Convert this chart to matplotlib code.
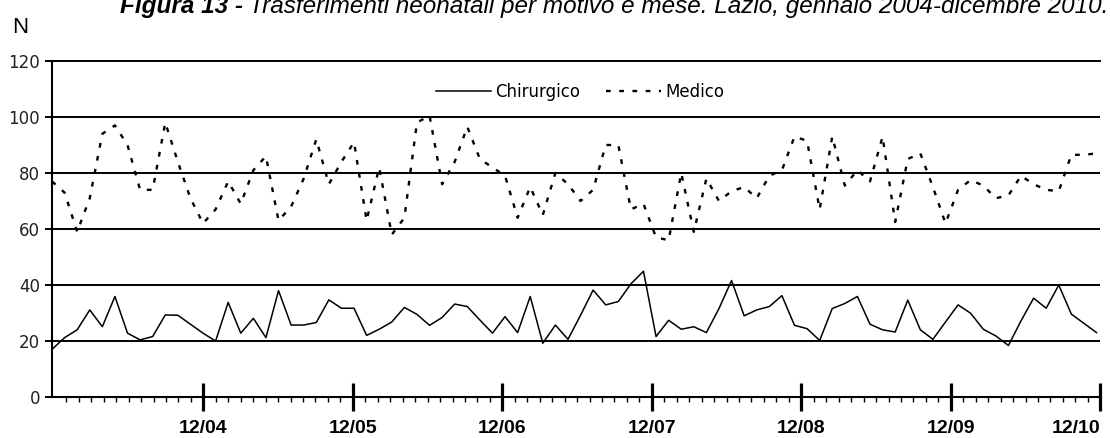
import numpy as np
import matplotlib
matplotlib.use("Agg")
import matplotlib.pyplot as plt

# ---- data (Jan 2004 .. Dec 2010, monthly) ----
chirurgico = [17.0, 21.2, 24.0, 31.1, 25.1, 35.9, 22.8, 20.4, 21.6, 29.3, 29.2, 26.0,
              22.8, 20.0, 33.8, 22.8, 28.1, 21.2, 38.0, 25.7, 25.7, 26.6, 34.7, 31.7,
              31.7, 22.0, 24.2, 26.8, 32.0, 29.5, 25.6, 28.4, 33.2, 32.3, 27.5, 22.8,
              28.7, 23.0, 35.9, 19.2, 25.7, 20.6, 29.2, 38.2, 32.9, 34.1, 40.4, 44.9,
              21.6, 27.4, 24.2, 25.1, 23.0, 31.6, 41.6, 29.0, 31.1, 32.3, 36.2, 25.6,
              24.4, 20.2, 31.6, 33.4, 35.9, 26.0, 24.0, 23.2, 34.6, 24.0, 20.6, 26.8,
              32.9, 29.9, 24.2, 21.8, 18.4, 27.2, 35.3, 31.7, 40.0, 29.6, 26.3, 23.0]
medico = [77, 73, 59, 71, 94, 97, 90, 74, 74, 98, 84, 71,
          62, 67, 77, 69, 81, 86, 63, 68, 78, 92, 76, 84,
          91, 63, 82, 58, 64, 98, 100.5, 76, 84, 96.5, 85, 82,
          79, 64, 75, 65, 80, 76, 70, 74, 90, 90, 67, 69,
          57, 56, 80, 59, 78, 70, 73.5, 75, 71, 79, 81, 93,
          91.5, 67, 93, 75.5, 81, 77, 93, 62.5, 85, 87, 75, 62,
          74, 77.5, 75.5, 71, 72, 79, 76, 74, 73.5, 86.5, 86.5, 87]
series_names = ["Chirurgico", "Medico"]
x_labels = ["12/04", "12/05", "12/06", "12/07", "12/08", "12/09", "12/10"]
y_ticks = [0, 20, 40, 60, 80, 100, 120]
y_label = "N"
title_bold = "Figura 13 -"
title_rest = "Trasferimenti neonatali per motivo e mese. Lazio, gennaio 2004-dicembre 2010."

assert len(chirurgico) == 84 and len(medico) == 84

W, H = 1110, 438
fig = plt.figure(figsize=(W / 100, H / 100), dpi=100)
ax = fig.add_axes([52 / W, 1 - 397 / H, (1100.3 - 52) / W, (397 - 61) / H])

x = np.arange(len(chirurgico))
ax.plot(x, chirurgico, color="black", lw=1.1, label=series_names[0], zorder=3)
ax.plot(x, medico, color="black", lw=1.7, dashes=(2.0, 3.6), label=series_names[1], zorder=3)

ax.set_xlim(0, 83.2)
ax.set_ylim(0, 120)

# tick axis: 84 monthly intervals from 12/03 to 12/10
tick_axis = np.linspace(0.15, 83.3, 85)
major = tick_axis[12::12]
minor = [t for i, t in enumerate(tick_axis) if i % 12 != 0]
ax.set_xticks(major)
ax.set_xticklabels(x_labels)
ax.set_xticks(minor, minor=True)
ax.tick_params(axis="x", which="major", direction="inout", length=19.5, width=2.3,
               pad=6.5, color="black")
ax.tick_params(axis="x", which="minor", direction="out", length=3.6, width=1.0, color="black")
xlabs = ax.get_xticklabels()
for lab in xlabs:
    lab.set_fontfamily(["Liberation Sans", "DejaVu Sans"])
    lab.set_fontweight("bold")
    lab.set_fontsize(14)
xlabs[-1].set_horizontalalignment("right")

ax.set_yticks(y_ticks)
ax.set_yticklabels([str(v) for v in y_ticks], fontsize=12, color="#222222",
                   fontfamily="DejaVu Sans")
ax.tick_params(axis="y", which="major", direction="out", length=5, width=1.4, pad=3.6)
ax.yaxis.grid(True, color="black", lw=1.4)
ax.set_axisbelow(True)

ax.spines["right"].set_visible(False)
ax.spines["top"].set_linewidth(1.4)
ax.spines["left"].set_linewidth(1.5)
ax.spines["bottom"].set_linewidth(1.5)

fig.legend(loc="center", bbox_to_anchor=(580 / W, 1 - 92 / H), ncol=2, frameon=False,
           handlelength=3.3, handletextpad=0.3, columnspacing=1.5,
           prop={"family": "DejaVu Sans", "size": 12})

fig.text(12 / W, 1 - 33 / H, y_label, fontsize=16, va="baseline", ha="left",
         family=["Liberation Sans", "DejaVu Sans"])

t1 = fig.text(120 / W, 1 - 13 / H, title_bold, fontsize=17.5, fontweight="bold",
              fontstyle="italic", va="baseline", ha="left",
              family=["Liberation Sans", "DejaVu Sans"])
fig.canvas.draw()
bb = t1.get_window_extent(renderer=fig.canvas.get_renderer())
fig.text((bb.x1 + 6) / W, 1 - 13 / H, title_rest, fontsize=17.5, fontstyle="italic",
         va="baseline", ha="left", family=["Liberation Sans", "DejaVu Sans"])

fig.savefig("out.png", dpi=100)
